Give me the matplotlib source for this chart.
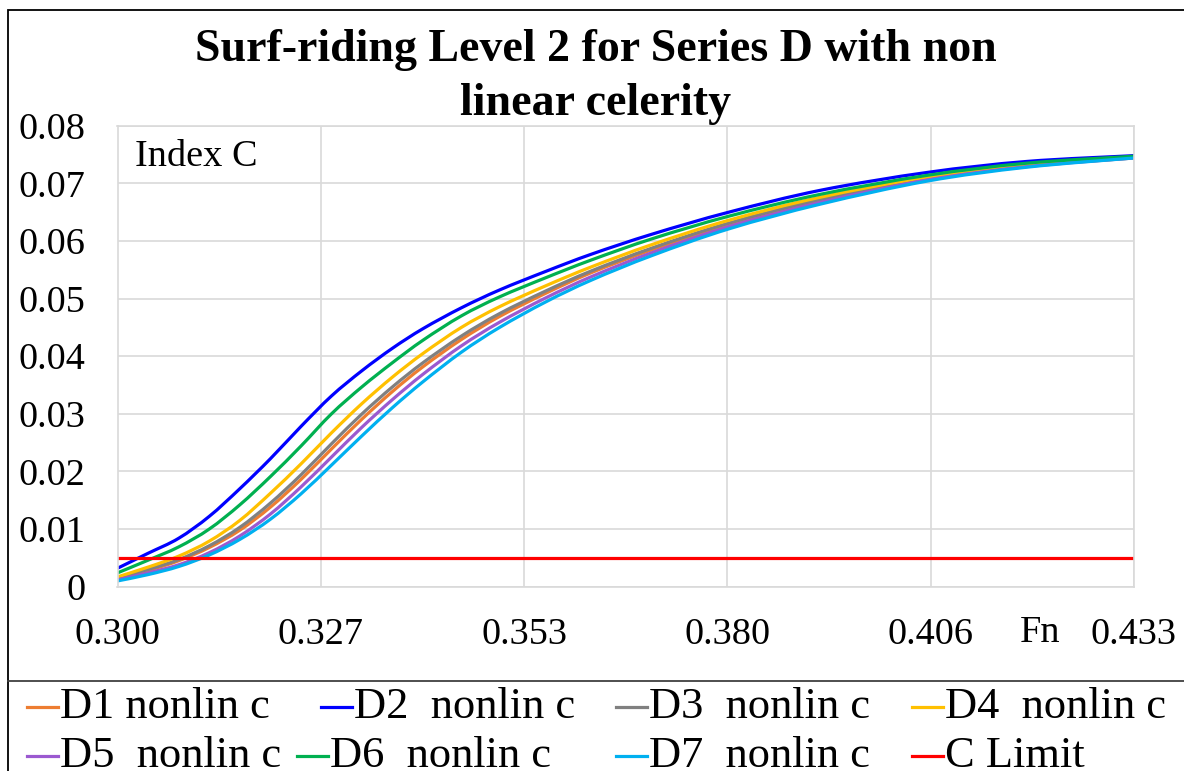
import numpy as np
import matplotlib
matplotlib.use("Agg")
import matplotlib.pyplot as plt
from matplotlib.lines import Line2D
from matplotlib.patches import Rectangle, PathPatch
from matplotlib.path import Path

plt.rcParams['font.family'] = ['Liberation Serif', 'DejaVu Serif']

# Froude number samples
fn = [0.300, 0.304, 0.308, 0.312, 0.316, 0.320, 0.324, 0.328, 0.332, 0.336, 0.340,
      0.345, 0.350, 0.356, 0.362, 0.370, 0.380, 0.392, 0.406, 0.419, 0.433]

d1 = [0.0013, 0.0028, 0.0045, 0.0068, 0.0098, 0.0138, 0.0186, 0.0239, 0.0291, 0.0339, 0.0382,
      0.0429, 0.0469, 0.0509, 0.0545, 0.0585, 0.0629, 0.0670, 0.0708, 0.0730, 0.0744]
d2 = [0.0032, 0.0058, 0.0084, 0.0122, 0.0170, 0.0222, 0.0278, 0.0331, 0.0375, 0.0414, 0.0448,
      0.0484, 0.0515, 0.0547, 0.0577, 0.0612, 0.0650, 0.0688, 0.0719, 0.0738, 0.0748]
d3 = [0.0015, 0.0030, 0.0047, 0.0071, 0.0103, 0.0145, 0.0194, 0.0248, 0.0300, 0.0347, 0.0389,
      0.0435, 0.0474, 0.0513, 0.0548, 0.0588, 0.0631, 0.0672, 0.0709, 0.0731, 0.0745]
d4 = [0.0017, 0.0034, 0.0053, 0.0079, 0.0115, 0.0162, 0.0213, 0.0267, 0.0318, 0.0364, 0.0405,
      0.0450, 0.0486, 0.0522, 0.0555, 0.0594, 0.0636, 0.0676, 0.0711, 0.0732, 0.0745]
d5 = [0.0012, 0.0024, 0.0038, 0.0059, 0.0088, 0.0126, 0.0173, 0.0225, 0.0277, 0.0325, 0.0369,
      0.0418, 0.0459, 0.0501, 0.0538, 0.0580, 0.0625, 0.0667, 0.0706, 0.0729, 0.0744]
d6 = [0.0024, 0.0046, 0.0069, 0.0100, 0.0142, 0.0191, 0.0244, 0.0300, 0.0347, 0.0389, 0.0428,
      0.0470, 0.0503, 0.0536, 0.0567, 0.0604, 0.0643, 0.0681, 0.0714, 0.0735, 0.0747]
d7 = [0.0010, 0.0021, 0.0035, 0.0055, 0.0082, 0.0117, 0.0161, 0.0211, 0.0262, 0.0311, 0.0356,
      0.0407, 0.0450, 0.0494, 0.0532, 0.0575, 0.0621, 0.0664, 0.0704, 0.0728, 0.0744]

limit_fn = [0.300, 0.433]
limit_c = [0.005, 0.005]

series_labels = ["D1 nonlin c", "D2  nonlin c", "D3  nonlin c", "D4  nonlin c",
                 "D5  nonlin c", "D6  nonlin c", "D7  nonlin c", "C Limit"]
series_colors = ["#ED7D31", "#0000FF", "#808080", "#FFC000",
                 "#9B59D0", "#00B050", "#00B0F0", "#FF0000"]

x_tick_labels = ["0.300", "0.327", "0.353", "0.380", "0.406", "0.433"]
y_tick_labels = ["0", "0.01", "0.02", "0.03", "0.04", "0.05", "0.06", "0.07", "0.08"]


def smoothed_path(xs, ys):
    """Catmull-Rom style Bezier path through the points (smoothed line)."""
    pts = np.column_stack([xs, ys]).astype(float)
    n = len(pts)
    verts = [pts[0]]
    codes = [Path.MOVETO]
    for i in range(n - 1):
        p0 = pts[i - 1] if i > 0 else pts[i]
        p1 = pts[i]
        p2 = pts[i + 1]
        p3 = pts[i + 2] if i + 2 < n else pts[i + 1]
        verts += [p1 + (p2 - p0) / 6.0, p2 - (p3 - p1) / 6.0, p2]
        codes += [Path.CURVE4] * 3
    return Path(verts, codes)


W, H = 1184, 771
fig = plt.figure(figsize=(W / 100, H / 100), dpi=100)
fig.patch.set_facecolor("white")

# outer chart frame and legend separator
fig.add_artist(Rectangle((7.5 / W, -0.1), 1.2, 1 - 10 / H + 0.1, transform=fig.transFigure,
                         fill=False, edgecolor="black", linewidth=1.3))
fig.add_artist(Line2D([7.5 / W, 1.0], [1 - 681 / H, 1 - 681 / H], transform=fig.transFigure,
                      color="#404040", linewidth=1.3))

left, right, top, bottom = 117.5, 1134, 125.7, 586.7
ax = fig.add_axes([left / W, 1 - bottom / H, (right - left) / W, (bottom - top) / H])

all_series = [d1, d2, d3, d4, d5, d6, d7]
for vals, col in zip(all_series, series_colors[:7]):
    ax.add_patch(PathPatch(smoothed_path(fn, vals), fill=False, edgecolor=col,
                           linewidth=2.3, capstyle="round", joinstyle="round"))
ax.plot(limit_fn, limit_c, color=series_colors[7], linewidth=2.3)

ax.set_xlim(0.300, 0.433)
ax.set_ylim(0, 0.08)
xt = [0.300 + k * 0.0266 for k in range(6)]
ax.set_xticks(xt)
ax.set_xticklabels(x_tick_labels)
ax.set_yticks(np.arange(9) * 0.01)
ax.set_yticklabels(y_tick_labels)
ax.tick_params(axis="both", length=0, labelsize=27.5)
ax.tick_params(axis="y", pad=23)
ax.tick_params(axis="x", pad=22)
ax.grid(True, color="#D9D9D9", linewidth=1.2)
ax.set_axisbelow(True)
for s in ax.spines.values():
    s.set_color("#D9D9D9")
    s.set_linewidth(1.2)

ax.text(0.017, 0.932, "Index C", transform=ax.transAxes, fontsize=27.5, va="center", ha="left")
fig.text(1040 / W, 1 - 633 / H, "Fn", fontsize=27.5, va="center", ha="center")

fig.text(596 / W, 1 - 77 / H, "Surf-riding Level 2 for Series D with non\nlinear celerity",
         fontsize=33, fontweight="bold", ha="center", va="center", linespacing=1.35)

# legend laid out row by row
rows = [
    [(0, 27), (1, 321), (2, 616), (3, 912)],
    [(4, 27), (5, 297), (6, 616), (7, 912)],
]
row_y = [707, 756]
for r, items in enumerate(rows):
    yf = 1 - row_y[r] / H
    for idx, xpx in items:
        fig.add_artist(Line2D([xpx / W, (xpx + 31) / W], [yf, yf], transform=fig.transFigure,
                              color=series_colors[idx], linewidth=2.3))
        fig.text((xpx + 33) / W, yf, series_labels[idx], fontsize=32, va="center", ha="left")

fig.savefig("out.png", dpi=100)
